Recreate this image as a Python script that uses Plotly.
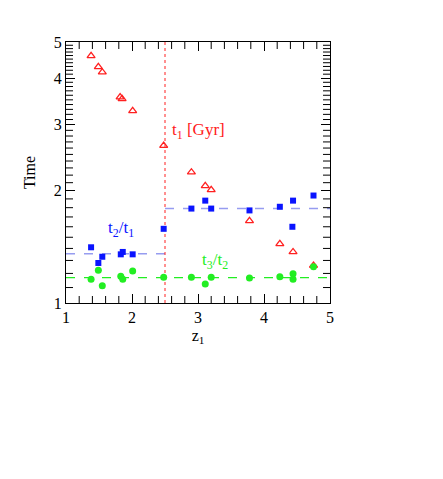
import numpy as np
import plotly.graph_objects as go

# Data
z_t1 = [1.38, 1.49, 1.55, 1.82, 1.85, 2.01, 2.48, 2.90, 3.11, 3.20, 3.78, 4.24, 4.44, 4.75]
t1 = [4.59, 4.29, 4.15, 3.56, 3.52, 3.27, 2.64, 2.24, 2.06, 2.01, 1.66, 1.44, 1.37, 1.26]

z_t2t1 = [1.38, 1.49, 1.55, 1.83, 1.86, 2.01, 2.48, 2.90, 3.11, 3.20, 3.78, 4.24, 4.44, 4.43, 4.75]
t2t1 = [1.41, 1.28, 1.33, 1.35, 1.37, 1.35, 1.58, 1.79, 1.88, 1.79, 1.77, 1.81, 1.88, 1.60, 1.94]

z_t3t2 = [1.38, 1.49, 1.55, 1.83, 1.86, 2.01, 2.48, 2.90, 3.11, 3.20, 3.78, 4.24, 4.44, 4.44, 4.75]
t3t2 = [1.157, 1.223, 1.113, 1.179, 1.157, 1.218, 1.172, 1.172, 1.124, 1.172, 1.167, 1.175, 1.198, 1.157, 1.251]

# Mean levels
blue_low_x = [1.0, 2.5]
blue_low_y = [1.355, 1.355]
blue_high_x = [2.5, 5.0]
blue_high_y = [1.79, 1.79]
green_x = [1.0, 5.0]
green_y = [1.169, 1.169]
z_split = 2.5

x_range = [1, 5]
y_range = [1, 5]
x_ticks = [1, 2, 3, 4, 5]
y_ticks = [1, 2, 3, 4, 5]
x_minor = [round(a + b / 5, 1) for a in range(1, 5) for b in range(1, 5)]
y_minor = [round(a + b / 10, 1) for a in range(1, 5) for b in range(1, 10)]

RED = "#ff2020"
BLUE = "#0a14ff"
GREEN = "#22ee22"
FONT = "Liberation Serif"

fig = go.Figure()

fig.add_trace(go.Scatter(x=blue_low_x, y=blue_low_y, mode="lines",
                         line=dict(color="rgba(80,90,230,0.6)", width=1.5, dash="dash"),
                         showlegend=False, hoverinfo="skip"))
fig.add_trace(go.Scatter(x=blue_high_x, y=blue_high_y, mode="lines",
                         line=dict(color="rgba(80,90,230,0.6)", width=1.5, dash="dash"),
                         showlegend=False, hoverinfo="skip"))
fig.add_trace(go.Scatter(x=green_x, y=green_y, mode="lines",
                         line=dict(color=GREEN, width=1.2, dash="dash"),
                         showlegend=False, hoverinfo="skip"))
fig.add_trace(go.Scatter(x=[z_split, z_split], y=y_range, mode="lines",
                         line=dict(color=RED, width=1, dash="dot"),
                         showlegend=False, hoverinfo="skip"))

# minor tick marks (clipped at the frame so only the inner half shows)
tick_style = dict(size=10, color="black", line=dict(width=1, color="black"))
fig.add_trace(go.Scatter(x=x_minor * 2, y=[y_range[0]] * len(x_minor) + [y_range[1]] * len(x_minor),
                         mode="markers", cliponaxis=True,
                         marker=dict(symbol="line-ns", **tick_style),
                         showlegend=False, hoverinfo="skip"))
fig.add_trace(go.Scatter(x=[x_range[0]] * len(y_minor) + [x_range[1]] * len(y_minor), y=y_minor * 2,
                         mode="markers", cliponaxis=True,
                         marker=dict(symbol="line-ew", **tick_style),
                         showlegend=False, hoverinfo="skip"))

fig.add_trace(go.Scatter(x=z_t1, y=t1, mode="markers",
                         marker=dict(symbol="triangle-up-open", size=7, color=RED,
                                     line=dict(width=1.3, color=RED)),
                         showlegend=False))
fig.add_trace(go.Scatter(x=z_t2t1, y=t2t1, mode="markers",
                         marker=dict(symbol="square", size=6, color=BLUE),
                         showlegend=False))
fig.add_trace(go.Scatter(x=z_t3t2, y=t3t2, mode="markers",
                         marker=dict(symbol="circle", size=7, color=GREEN),
                         showlegend=False))

fig.add_annotation(x=2.58, y=np.log10(2.89), text="t<sub>1</sub> [Gyr]", showarrow=False,
                   xanchor="left", font=dict(family=FONT, size=17, color=RED))
fig.add_annotation(x=1.84, y=np.log10(1.578), text="t<sub>2</sub>/t<sub>1</sub>", showarrow=False,
                   font=dict(family=FONT, size=17, color=BLUE))
fig.add_annotation(x=3.25, y=np.log10(1.296), text="t<sub>3</sub>/t<sub>2</sub>", showarrow=False,
                   font=dict(family=FONT, size=17, color=GREEN))

fig.update_xaxes(range=x_range, tickmode="array", tickvals=x_ticks, ticktext=[str(v) for v in x_ticks],
                 ticks="inside", ticklen=9, tickwidth=1, tickcolor="black",
                 showline=True, linecolor="black", linewidth=1.2, mirror="allticks",
                 showgrid=False, zeroline=False,
                 title=dict(text="z<sub>1</sub>", font=dict(family=FONT, size=16, color="black"), standoff=4),
                 tickfont=dict(family=FONT, size=16, color="black"))
fig.update_yaxes(type="log", range=[np.log10(y_range[0]), np.log10(y_range[1])], tickmode="array",
                 tickvals=y_ticks, ticktext=[str(v) for v in y_ticks],
                 ticks="inside", ticklen=9, tickwidth=1, tickcolor="black",
                 showline=True, linecolor="black", linewidth=1.2, mirror="allticks",
                 showgrid=False, zeroline=False,
                 title=dict(text="Time", font=dict(family=FONT, size=16, color="black"), standoff=14),
                 tickfont=dict(family=FONT, size=16, color="black"))

fig.update_layout(width=435, height=471, margin=dict(l=58, r=113, t=34, b=176),
                  plot_bgcolor="white", paper_bgcolor="white",
                  font=dict(family=FONT, color="black"))

fig.write_html("out.html")
